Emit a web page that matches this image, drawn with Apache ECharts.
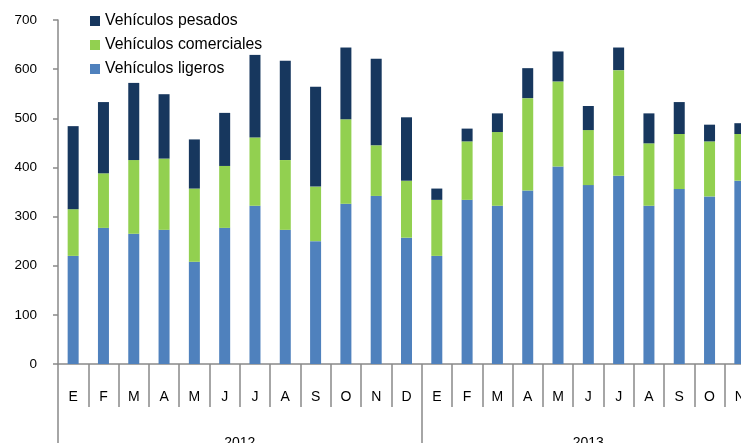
<!DOCTYPE html>
<html>
<head>
<meta charset="utf-8">
<script src="https://cdn.jsdelivr.net/npm/echarts@6/dist/echarts.min.js"></script>
<style>
  html, body { margin: 0; padding: 0; overflow: hidden; background: #fff; }
  #chart { width: 760px; height: 443px; }
</style>
</head>
<body>
<div id="chart"></div>
<script>
// meses de 2012 (completo) y 2013 (hasta noviembre)
var months2012 = ['E', 'F', 'M', 'A', 'M', 'J', 'J', 'A', 'S', 'O', 'N', 'D']
var months2013 = ['E', 'F', 'M', 'A', 'M', 'J', 'J', 'A', 'S', 'O', 'N']
var years = ['2012', '2013']

var ligeros = [220, 277, 265, 273, 208, 277, 322, 273, 250, 326, 342, 257,
  220, 334, 322, 353, 402, 364, 383, 322, 356, 341, 373]
var comerciales = [95, 111, 150, 145, 149, 126, 139, 142, 111, 172, 103, 116,
  114, 119, 150, 188, 173, 112, 215, 127, 112, 112, 95]
var pesados = [169, 145, 157, 131, 100, 108, 168, 202, 203, 146, 176, 129,
  23, 26, 38, 61, 61, 49, 46, 61, 65, 34, 22]

var categories = months2012.concat(months2013)
var n = categories.length
// year label sits in the middle of its group of months
var yearMid = [months2012.length / 2, months2012.length + months2013.length / 2]

var axisGray = '#898989'
var font = 'Liberation Sans, Arial, sans-serif'

function tickAxis(len, intervalFn) {
  return {
    type: 'category',
    data: categories,
    boundaryGap: true,
    position: 'bottom',
    axisLine: { show: false },
    axisLabel: { show: false },
    axisTick: {
      show: true,
      length: len,
      interval: intervalFn,
      lineStyle: { color: axisGray, width: 1.5 }
    }
  }
}

var chart = echarts.init(document.getElementById('chart'))

chart.setOption({
  backgroundColor: '#fff',
  animation: false,
  textStyle: { fontFamily: font },
  legend: {
    orient: 'vertical',
    left: 85,
    top: 8,
    itemWidth: 10,
    itemHeight: 10,
    itemGap: 8,
    icon: 'rect',
    textStyle: { fontSize: 15.8, color: '#000', fontFamily: font },
    data: ['Vehículos pesados', 'Vehículos comerciales', 'Vehículos ligeros']
  },
  grid: {
    left: 58,
    right: 5,
    top: 20,
    bottom: 79,
    outerBoundsMode: 'none'
  },
  xAxis: [
    {
      type: 'category',
      data: categories,
      boundaryGap: true,
      axisLine: { lineStyle: { color: axisGray, width: 1.5 } },
      axisTick: { show: false },
      axisLabel: { color: '#000', fontSize: 14, margin: 26, interval: 0 },
      splitLine: { show: false }
    },
    {
      type: 'value',
      position: 'bottom',
      min: 0,
      max: n,
      interval: 0.5,
      axisLine: { show: false },
      axisTick: { show: false },
      splitLine: { show: false },
      axisLabel: {
        color: '#000',
        fontSize: 14,
        margin: 72,
        formatter: function(v) {
          var i = yearMid.indexOf(v)
          return i >= 0 ? years[i] : ''
        }
      }
    },
    // month separators
    tickAxis(43, 0),
    // year separators
    tickAxis(90, function(index) {
      return index === 0 || index === months2012.length
    })
  ],
  yAxis: {
    type: 'value',
    min: 0,
    max: 700,
    interval: 100,
    axisLine: { show: true, lineStyle: { color: axisGray, width: 1.5 } },
    axisTick: { show: true, length: 5, lineStyle: { color: axisGray, width: 1.5 } },
    axisLabel: { color: '#000', fontSize: 13.5, margin: 21, padding: [4, 0, 0, 0] },
    splitLine: { show: false }
  },
  series: [
    {
      name: 'Vehículos ligeros',
      type: 'bar',
      stack: 'total',
      barWidth: 11,
      itemStyle: { color: '#4F81BD' },
      data: ligeros
    },
    {
      name: 'Vehículos comerciales',
      type: 'bar',
      stack: 'total',
      barWidth: 11,
      itemStyle: { color: '#92D050' },
      data: comerciales
    },
    {
      name: 'Vehículos pesados',
      type: 'bar',
      stack: 'total',
      barWidth: 11,
      itemStyle: { color: '#17375E' },
      data: pesados
    }
  ]
})
</script>
</body>
</html>
